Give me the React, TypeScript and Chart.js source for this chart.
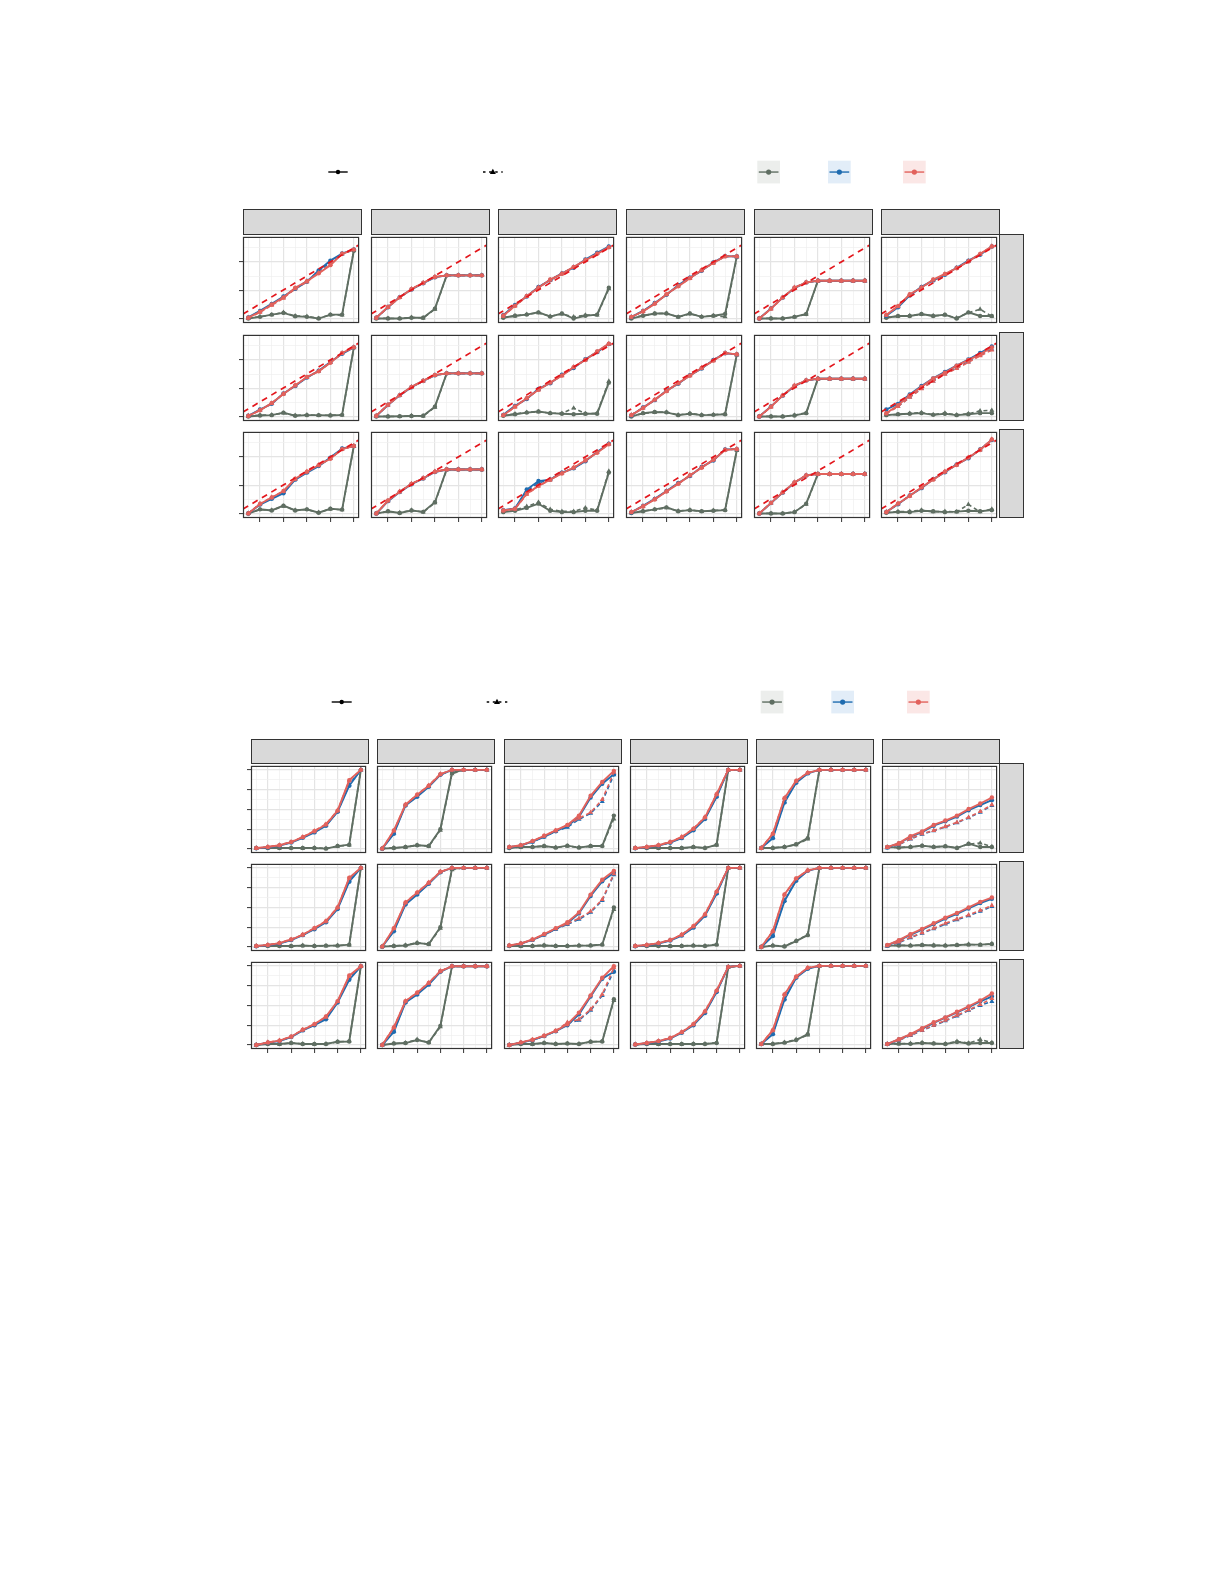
import React, { useEffect, useRef } from "react";
import { Chart, registerables } from "chart.js";

Chart.register(...registerables);

// ---------------- axes / ticks ----------------
const xValues = [1, 2, 3, 4, 5, 6, 7, 8, 9, 10];
const xGridValues = [1, 2, 3, 4, 5, 6, 7, 8, 9, 10];
const xMajorTicks = [2, 4, 6, 8, 10];
const xRange = [0.55, 10.45];

const topYGridValues = [0, 0.5, 1, 1.5, 2, 2.5];
const topYMajorTicks = [0, 1, 2];
const topYRange = [-0.157, 2.89];

const botYGridValues = [0, 0.5, 1, 1.5, 2, 2.5, 3, 3.5, 4];
const botYMajorTicks = [0, 1, 2, 3, 4];
const botYRange = [-0.2, 4.2];

// reference (identity-type) dashed line in the upper figure
const refSlope = 0.2475;
const refIntercept = 0.024;

// ---------------- upper figure: 3 rows x 6 columns (row-major) ----------------
const topGray = [
  [0.00, 0.06, 0.14, 0.20, 0.08, 0.06, 0.00, 0.14, 0.14, 2.40],
  [0.00, 0.00, 0.00, 0.03, 0.03, 0.35, 1.53, 1.53, 1.53, 1.53],
  [0.03, 0.10, 0.14, 0.22, 0.07, 0.18, 0.00, 0.10, 0.14, 1.09],
  [0.00, 0.10, 0.18, 0.18, 0.06, 0.18, 0.06, 0.10, 0.16, 2.20],
  [0.00, 0.00, 0.00, 0.06, 0.16, 1.34, 1.34, 1.34, 1.34, 1.34],
  [0.03, 0.09, 0.09, 0.16, 0.09, 0.14, 0.00, 0.22, 0.09, 0.09],
  [0.00, 0.04, 0.05, 0.14, 0.03, 0.05, 0.05, 0.04, 0.06, 2.45],
  [0.00, 0.00, 0.01, 0.02, 0.03, 0.35, 1.53, 1.53, 1.53, 1.53],
  [0.03, 0.08, 0.14, 0.18, 0.12, 0.10, 0.08, 0.10, 0.10, 1.20],
  [0.00, 0.12, 0.16, 0.15, 0.05, 0.10, 0.05, 0.06, 0.08, 2.20],
  [0.00, 0.00, 0.00, 0.04, 0.12, 1.34, 1.34, 1.34, 1.34, 1.34],
  [0.05, 0.08, 0.10, 0.12, 0.06, 0.10, 0.05, 0.08, 0.12, 0.12],
  [0.00, 0.15, 0.11, 0.28, 0.11, 0.15, 0.03, 0.17, 0.14, 2.39],
  [0.00, 0.08, 0.02, 0.11, 0.06, 0.40, 1.56, 1.56, 1.56, 1.56],
  [0.05, 0.10, 0.20, 0.35, 0.10, 0.05, 0.05, 0.10, 0.10, 1.45],
  [0.02, 0.08, 0.15, 0.22, 0.08, 0.12, 0.08, 0.10, 0.12, 2.25],
  [0.00, 0.00, 0.00, 0.05, 0.35, 1.40, 1.40, 1.40, 1.40, 1.40],
  [0.03, 0.06, 0.05, 0.10, 0.08, 0.05, 0.07, 0.10, 0.08, 0.12],
];
const topGrayD = [
  [0.01, 0.07, 0.13, 0.22, 0.09, 0.08, 0.01, 0.13, 0.12, 2.42],
  [0.00, 0.01, 0.00, 0.04, 0.02, 0.33, 1.52, 1.53, 1.53, 1.53],
  [0.04, 0.09, 0.15, 0.20, 0.08, 0.16, 0.06, 0.12, 0.12, 1.05],
  [0.01, 0.11, 0.17, 0.19, 0.05, 0.17, 0.07, 0.10, 0.06, 2.18],
  [0.00, 0.01, 0.00, 0.05, 0.15, 1.33, 1.34, 1.34, 1.34, 1.34],
  [0.04, 0.08, 0.10, 0.15, 0.10, 0.12, 0.02, 0.20, 0.33, 0.08],
  [0.01, 0.05, 0.06, 0.12, 0.04, 0.06, 0.04, 0.05, 0.05, 2.43],
  [0.00, 0.01, 0.00, 0.03, 0.02, 0.33, 1.52, 1.53, 1.53, 1.53],
  [0.04, 0.09, 0.15, 0.17, 0.12, 0.11, 0.30, 0.10, 0.12, 1.25],
  [0.01, 0.11, 0.15, 0.16, 0.06, 0.11, 0.06, 0.07, 0.09, 2.18],
  [0.00, 0.01, 0.00, 0.05, 0.13, 1.33, 1.34, 1.34, 1.34, 1.34],
  [0.06, 0.07, 0.11, 0.14, 0.07, 0.12, 0.06, 0.10, 0.20, 0.22],
  [0.01, 0.14, 0.12, 0.26, 0.12, 0.14, 0.04, 0.16, 0.13, 2.37],
  [0.00, 0.07, 0.03, 0.12, 0.05, 0.38, 1.55, 1.56, 1.56, 1.56],
  [0.07, 0.13, 0.25, 0.40, 0.15, 0.08, 0.08, 0.20, 0.12, 1.50],
  [0.03, 0.09, 0.14, 0.20, 0.09, 0.13, 0.07, 0.11, 0.13, 2.23],
  [0.00, 0.01, 0.00, 0.06, 0.33, 1.39, 1.40, 1.40, 1.40, 1.40],
  [0.04, 0.07, 0.08, 0.12, 0.06, 0.08, 0.06, 0.32, 0.06, 0.16],
];
const topBlue = [
  [0.04, 0.27, 0.52, 0.78, 1.05, 1.30, 1.70, 2.05, 2.30, 2.45],
  [0.03, 0.40, 0.76, 1.03, 1.25, 1.46, 1.53, 1.53, 1.53, 1.53],
  [0.12, 0.48, 0.78, 1.12, 1.36, 1.60, 1.80, 2.09, 2.33, 2.55],
  [0.05, 0.27, 0.55, 0.84, 1.18, 1.45, 1.69, 1.99, 2.21, 2.20],
  [0.00, 0.36, 0.74, 1.08, 1.28, 1.34, 1.34, 1.34, 1.34, 1.34],
  [0.10, 0.40, 0.82, 1.12, 1.35, 1.55, 1.80, 2.05, 2.26, 2.55],
  [0.03, 0.25, 0.45, 0.82, 1.08, 1.38, 1.62, 1.93, 2.22, 2.45],
  [0.02, 0.41, 0.75, 1.04, 1.26, 1.46, 1.53, 1.53, 1.53, 1.53],
  [0.06, 0.38, 0.62, 0.98, 1.18, 1.48, 1.72, 2.03, 2.28, 2.57],
  [0.04, 0.32, 0.58, 0.92, 1.16, 1.46, 1.70, 2.00, 2.24, 2.20],
  [0.00, 0.36, 0.74, 1.08, 1.28, 1.34, 1.34, 1.34, 1.34, 1.34],
  [0.25, 0.45, 0.78, 1.08, 1.35, 1.58, 1.80, 2.02, 2.25, 2.48],
  [0.00, 0.32, 0.52, 0.72, 1.20, 1.45, 1.68, 1.98, 2.30, 2.39],
  [0.00, 0.44, 0.76, 1.04, 1.24, 1.47, 1.56, 1.56, 1.56, 1.56],
  [0.12, 0.18, 0.85, 1.15, 1.20, 1.45, 1.60, 1.85, 2.18, 2.47],
  [0.04, 0.27, 0.52, 0.80, 1.08, 1.33, 1.65, 1.88, 2.27, 2.28],
  [0.00, 0.37, 0.74, 1.09, 1.35, 1.40, 1.40, 1.40, 1.40, 1.40],
  [0.06, 0.33, 0.64, 0.90, 1.22, 1.46, 1.74, 1.96, 2.27, 2.60],
];
const topBlueD = [
  [0.03, 0.25, 0.50, 0.76, 1.07, 1.33, 1.66, 2.00, 2.28, 2.44],
  [0.02, 0.41, 0.75, 1.04, 1.26, 1.47, 1.53, 1.53, 1.53, 1.53],
  [0.11, 0.46, 0.79, 1.10, 1.37, 1.59, 1.82, 2.07, 2.31, 2.53],
  [0.06, 0.26, 0.53, 0.85, 1.16, 1.44, 1.70, 1.98, 2.20, 2.20],
  [0.00, 0.35, 0.75, 1.09, 1.28, 1.34, 1.34, 1.34, 1.34, 1.34],
  [0.11, 0.42, 0.84, 1.10, 1.36, 1.56, 1.79, 2.03, 2.27, 2.55],
  [0.02, 0.23, 0.47, 0.81, 1.09, 1.39, 1.61, 1.91, 2.24, 2.45],
  [0.03, 0.42, 0.76, 1.05, 1.27, 1.47, 1.53, 1.53, 1.53, 1.53],
  [0.05, 0.36, 0.64, 0.96, 1.19, 1.46, 1.74, 2.01, 2.29, 2.56],
  [0.05, 0.31, 0.59, 0.91, 1.17, 1.45, 1.71, 1.99, 2.25, 2.20],
  [0.00, 0.35, 0.75, 1.09, 1.28, 1.34, 1.34, 1.34, 1.34, 1.34],
  [0.12, 0.36, 0.69, 0.99, 1.26, 1.51, 1.72, 1.94, 2.17, 2.38],
  [0.01, 0.33, 0.55, 0.76, 1.21, 1.46, 1.70, 1.96, 2.29, 2.39],
  [0.00, 0.45, 0.77, 1.05, 1.25, 1.48, 1.56, 1.56, 1.56, 1.56],
  [0.11, 0.18, 0.80, 1.08, 1.21, 1.44, 1.61, 1.87, 2.17, 2.46],
  [0.05, 0.26, 0.51, 0.79, 1.06, 1.34, 1.63, 1.89, 2.26, 2.28],
  [0.00, 0.38, 0.75, 1.10, 1.35, 1.40, 1.40, 1.40, 1.40, 1.40],
  [0.05, 0.34, 0.63, 0.91, 1.21, 1.47, 1.73, 1.97, 2.26, 2.61],
];
const topRed = [
  [0.03, 0.24, 0.50, 0.75, 1.09, 1.32, 1.60, 1.89, 2.29, 2.44],
  [0.03, 0.41, 0.75, 1.04, 1.26, 1.47, 1.53, 1.53, 1.53, 1.53],
  [0.10, 0.45, 0.80, 1.09, 1.38, 1.58, 1.83, 2.06, 2.29, 2.52],
  [0.06, 0.25, 0.52, 0.86, 1.14, 1.43, 1.71, 1.97, 2.20, 2.20],
  [0.00, 0.35, 0.75, 1.09, 1.28, 1.34, 1.34, 1.34, 1.34, 1.34],
  [0.13, 0.44, 0.86, 1.09, 1.38, 1.58, 1.78, 2.02, 2.29, 2.55],
  [0.02, 0.22, 0.48, 0.80, 1.10, 1.40, 1.60, 1.90, 2.25, 2.45],
  [0.03, 0.42, 0.76, 1.05, 1.27, 1.47, 1.53, 1.53, 1.53, 1.53],
  [0.05, 0.35, 0.65, 0.95, 1.20, 1.45, 1.75, 2.00, 2.30, 2.58],
  [0.05, 0.30, 0.60, 0.90, 1.18, 1.45, 1.72, 1.98, 2.25, 2.20],
  [0.00, 0.35, 0.75, 1.09, 1.28, 1.34, 1.34, 1.34, 1.34, 1.34],
  [0.12, 0.40, 0.75, 1.05, 1.35, 1.55, 1.80, 2.00, 2.20, 2.45],
  [0.00, 0.34, 0.57, 0.80, 1.23, 1.48, 1.71, 1.94, 2.28, 2.39],
  [0.00, 0.46, 0.77, 1.05, 1.25, 1.48, 1.56, 1.56, 1.56, 1.56],
  [0.11, 0.17, 0.70, 0.98, 1.20, 1.42, 1.62, 1.88, 2.15, 2.45],
  [0.05, 0.25, 0.50, 0.78, 1.05, 1.35, 1.62, 1.90, 2.25, 2.28],
  [0.00, 0.38, 0.75, 1.10, 1.35, 1.40, 1.40, 1.40, 1.40, 1.40],
  [0.05, 0.35, 0.62, 0.92, 1.20, 1.48, 1.72, 1.98, 2.25, 2.62],
];
const topRedD = [
  [0.02, 0.22, 0.47, 0.72, 1.05, 1.30, 1.62, 1.92, 2.30, 2.44],
  [0.02, 0.40, 0.74, 1.05, 1.27, 1.48, 1.53, 1.53, 1.52, 1.52],
  [0.09, 0.44, 0.78, 1.10, 1.36, 1.60, 1.81, 2.08, 2.30, 2.52],
  [0.05, 0.26, 0.54, 0.85, 1.15, 1.42, 1.72, 1.96, 2.21, 2.20],
  [0.00, 0.34, 0.74, 1.10, 1.29, 1.34, 1.34, 1.34, 1.34, 1.34],
  [0.12, 0.43, 0.85, 1.10, 1.37, 1.57, 1.79, 2.03, 2.28, 2.56],
  [0.03, 0.23, 0.46, 0.81, 1.11, 1.39, 1.61, 1.91, 2.24, 2.46],
  [0.02, 0.41, 0.75, 1.04, 1.26, 1.46, 1.53, 1.53, 1.53, 1.53],
  [0.04, 0.34, 0.66, 0.94, 1.21, 1.44, 1.76, 2.01, 2.29, 2.57],
  [0.06, 0.31, 0.59, 0.89, 1.19, 1.44, 1.73, 1.97, 2.24, 2.21],
  [0.00, 0.34, 0.74, 1.10, 1.29, 1.34, 1.34, 1.34, 1.34, 1.34],
  [0.10, 0.35, 0.68, 0.98, 1.25, 1.50, 1.70, 1.92, 2.15, 2.35],
  [0.01, 0.35, 0.58, 0.79, 1.22, 1.49, 1.72, 1.95, 2.27, 2.40],
  [0.01, 0.45, 0.78, 1.06, 1.26, 1.49, 1.56, 1.56, 1.56, 1.56],
  [0.10, 0.16, 0.68, 0.97, 1.19, 1.43, 1.63, 1.89, 2.16, 2.46],
  [0.06, 0.26, 0.51, 0.79, 1.06, 1.36, 1.63, 1.91, 2.26, 2.29],
  [0.01, 0.37, 0.76, 1.11, 1.36, 1.40, 1.40, 1.40, 1.40, 1.40],
  [0.06, 0.36, 0.63, 0.93, 1.21, 1.49, 1.73, 1.99, 2.26, 2.63],
];

// ---------------- lower figure: 3 rows x 6 columns (row-major) ----------------
const botGray = [
  [0.05, 0.05, 0.05, 0.05, 0.05, 0.05, 0.02, 0.15, 0.22, 4.00],
  [0.02, 0.05, 0.10, 0.19, 0.15, 1.00, 3.85, 4.00, 4.00, 4.00],
  [0.05, 0.10, 0.10, 0.15, 0.07, 0.17, 0.07, 0.15, 0.15, 1.69],
  [0.05, 0.05, 0.05, 0.05, 0.05, 0.10, 0.05, 0.22, 4.00, 4.00],
  [0.05, 0.05, 0.10, 0.24, 0.55, 4.00, 4.00, 4.00, 4.00, 4.00],
  [0.10, 0.07, 0.10, 0.17, 0.10, 0.14, 0.05, 0.27, 0.10, 0.10],
  [0.05, 0.05, 0.05, 0.05, 0.07, 0.05, 0.07, 0.07, 0.12, 4.00],
  [0.02, 0.05, 0.08, 0.20, 0.15, 1.00, 3.95, 4.00, 4.00, 4.00],
  [0.05, 0.05, 0.05, 0.08, 0.05, 0.05, 0.07, 0.08, 0.12, 2.00],
  [0.05, 0.05, 0.05, 0.05, 0.05, 0.07, 0.05, 0.12, 4.00, 4.00],
  [0.00, 0.07, 0.03, 0.30, 0.60, 4.00, 4.00, 4.00, 4.00, 4.00],
  [0.07, 0.08, 0.07, 0.10, 0.08, 0.07, 0.10, 0.12, 0.12, 0.15],
  [0.00, 0.05, 0.05, 0.10, 0.05, 0.05, 0.05, 0.17, 0.18, 3.98],
  [0.00, 0.08, 0.10, 0.25, 0.13, 0.97, 3.98, 3.98, 3.98, 3.98],
  [0.00, 0.05, 0.05, 0.10, 0.05, 0.08, 0.05, 0.17, 0.18, 2.31],
  [0.03, 0.05, 0.05, 0.05, 0.05, 0.05, 0.05, 0.10, 3.95, 4.00],
  [0.05, 0.05, 0.12, 0.25, 0.55, 4.00, 4.00, 4.00, 4.00, 4.00],
  [0.05, 0.07, 0.06, 0.10, 0.08, 0.05, 0.15, 0.08, 0.10, 0.10],
];
const botGrayD = [
  [0.04, 0.06, 0.05, 0.06, 0.04, 0.06, 0.03, 0.14, 0.20, 4.00],
  [0.03, 0.06, 0.09, 0.20, 0.14, 0.95, 3.80, 4.00, 4.00, 4.00],
  [0.06, 0.09, 0.11, 0.14, 0.08, 0.15, 0.08, 0.14, 0.16, 1.52],
  [0.04, 0.06, 0.05, 0.06, 0.04, 0.09, 0.06, 0.20, 3.98, 4.00],
  [0.04, 0.06, 0.11, 0.22, 0.50, 3.98, 4.00, 4.00, 4.00, 4.00],
  [0.09, 0.08, 0.11, 0.16, 0.11, 0.13, 0.06, 0.25, 0.30, 0.12],
  [0.04, 0.06, 0.06, 0.04, 0.08, 0.06, 0.06, 0.08, 0.10, 3.98],
  [0.03, 0.06, 0.09, 0.22, 0.14, 0.95, 3.90, 4.00, 4.00, 4.00],
  [0.06, 0.04, 0.06, 0.09, 0.06, 0.06, 0.08, 0.07, 0.14, 1.90],
  [0.04, 0.06, 0.06, 0.04, 0.06, 0.08, 0.06, 0.14, 3.98, 4.00],
  [0.01, 0.08, 0.05, 0.32, 0.62, 3.98, 4.00, 4.00, 4.00, 4.00],
  [0.06, 0.09, 0.08, 0.09, 0.09, 0.08, 0.09, 0.14, 0.10, 0.17],
  [0.01, 0.06, 0.04, 0.11, 0.06, 0.04, 0.06, 0.16, 0.20, 3.96],
  [0.01, 0.07, 0.11, 0.28, 0.12, 0.92, 3.96, 3.98, 3.98, 3.98],
  [0.01, 0.06, 0.04, 0.11, 0.06, 0.07, 0.06, 0.16, 0.20, 2.25],
  [0.02, 0.06, 0.04, 0.06, 0.04, 0.06, 0.06, 0.12, 3.93, 4.00],
  [0.04, 0.06, 0.13, 0.28, 0.50, 3.98, 4.00, 4.00, 4.00, 4.00],
  [0.04, 0.06, 0.08, 0.12, 0.07, 0.06, 0.18, 0.10, 0.28, 0.12],
];
const botBlue = [
  [0.04, 0.08, 0.17, 0.33, 0.57, 0.84, 1.18, 1.88, 3.20, 4.00],
  [0.02, 0.77, 2.20, 2.64, 3.15, 3.75, 4.00, 4.00, 4.00, 4.00],
  [0.09, 0.18, 0.37, 0.62, 0.90, 1.15, 1.62, 2.60, 3.30, 3.78],
  [0.04, 0.09, 0.17, 0.32, 0.55, 0.95, 1.52, 2.64, 4.00, 4.00],
  [0.05, 0.55, 2.35, 3.35, 3.82, 4.00, 4.00, 4.00, 4.00, 4.00],
  [0.08, 0.28, 0.62, 0.86, 1.18, 1.40, 1.64, 1.96, 2.22, 2.47],
  [0.04, 0.09, 0.18, 0.35, 0.60, 0.90, 1.25, 1.92, 3.30, 4.00],
  [0.02, 0.80, 2.15, 2.65, 3.20, 3.78, 4.00, 4.00, 4.00, 4.00],
  [0.07, 0.17, 0.36, 0.62, 0.92, 1.20, 1.70, 2.58, 3.32, 3.75],
  [0.04, 0.09, 0.18, 0.33, 0.58, 0.98, 1.58, 2.70, 4.00, 4.00],
  [0.00, 0.56, 2.32, 3.35, 3.85, 4.00, 4.00, 4.00, 4.00, 4.00],
  [0.08, 0.32, 0.62, 0.88, 1.16, 1.44, 1.68, 1.95, 2.22, 2.44],
  [0.00, 0.12, 0.20, 0.40, 0.74, 1.00, 1.30, 2.15, 3.30, 3.98],
  [0.00, 0.67, 2.15, 2.55, 3.05, 3.70, 3.98, 3.98, 3.98, 3.98],
  [0.00, 0.12, 0.25, 0.45, 0.70, 1.00, 1.55, 2.45, 3.35, 3.70],
  [0.03, 0.09, 0.18, 0.33, 0.62, 1.00, 1.62, 2.68, 3.95, 4.00],
  [0.05, 0.55, 2.30, 3.40, 3.85, 4.00, 4.00, 4.00, 4.00, 4.00],
  [0.05, 0.28, 0.52, 0.82, 1.12, 1.38, 1.65, 1.92, 2.20, 2.45],
];
const botBlueD = [
  [0.05, 0.09, 0.18, 0.34, 0.58, 0.86, 1.20, 1.90, 3.25, 4.00],
  [0.02, 0.80, 2.22, 2.66, 3.17, 3.76, 4.00, 4.00, 4.00, 4.00],
  [0.09, 0.18, 0.37, 0.62, 0.90, 1.10, 1.50, 1.80, 2.40, 3.75],
  [0.05, 0.09, 0.18, 0.33, 0.57, 0.97, 1.55, 2.66, 4.00, 4.00],
  [0.05, 0.58, 2.38, 3.37, 3.83, 4.00, 4.00, 4.00, 4.00, 4.00],
  [0.06, 0.22, 0.50, 0.75, 0.92, 1.12, 1.33, 1.58, 1.86, 2.20],
  [0.05, 0.09, 0.19, 0.36, 0.61, 0.92, 1.27, 1.95, 3.35, 4.00],
  [0.02, 0.83, 2.18, 2.68, 3.22, 3.79, 4.00, 4.00, 4.00, 4.00],
  [0.07, 0.17, 0.36, 0.62, 0.90, 1.14, 1.40, 1.75, 2.35, 3.65],
  [0.05, 0.09, 0.19, 0.34, 0.60, 1.00, 1.60, 2.72, 4.00, 4.00],
  [0.01, 0.60, 2.35, 3.38, 3.86, 4.00, 4.00, 4.00, 4.00, 4.00],
  [0.05, 0.22, 0.47, 0.70, 0.92, 1.16, 1.38, 1.58, 1.80, 2.05],
  [0.01, 0.12, 0.21, 0.41, 0.75, 1.02, 1.34, 2.18, 3.38, 3.98],
  [0.00, 0.70, 2.17, 2.58, 3.08, 3.72, 3.98, 3.98, 3.98, 3.98],
  [0.00, 0.12, 0.25, 0.45, 0.70, 1.10, 1.25, 1.75, 2.50, 3.75],
  [0.03, 0.09, 0.19, 0.34, 0.63, 1.02, 1.65, 2.70, 3.95, 4.00],
  [0.05, 0.58, 2.33, 3.42, 3.86, 4.00, 4.00, 4.00, 4.00, 4.00],
  [0.04, 0.24, 0.48, 0.73, 0.98, 1.22, 1.47, 1.75, 2.00, 2.20],
];
const botRed = [
  [0.05, 0.10, 0.19, 0.35, 0.60, 0.90, 1.24, 1.94, 3.48, 4.00],
  [0.02, 0.94, 2.24, 2.74, 3.20, 3.78, 4.00, 4.00, 4.00, 4.00],
  [0.10, 0.19, 0.40, 0.67, 0.94, 1.22, 1.69, 2.69, 3.39, 3.95],
  [0.05, 0.10, 0.19, 0.35, 0.60, 1.02, 1.60, 2.77, 4.00, 4.00],
  [0.05, 0.77, 2.57, 3.44, 3.85, 4.00, 4.00, 4.00, 4.00, 4.00],
  [0.10, 0.30, 0.65, 0.89, 1.22, 1.44, 1.69, 2.02, 2.30, 2.60],
  [0.05, 0.10, 0.20, 0.38, 0.62, 0.95, 1.30, 2.00, 3.50, 4.00],
  [0.02, 0.95, 2.25, 2.75, 3.25, 3.80, 4.00, 4.00, 4.00, 4.00],
  [0.08, 0.18, 0.38, 0.65, 0.95, 1.25, 1.75, 2.65, 3.40, 3.85],
  [0.05, 0.10, 0.20, 0.35, 0.62, 1.05, 1.65, 2.80, 4.00, 4.00],
  [0.00, 0.80, 2.66, 3.47, 3.87, 4.00, 4.00, 4.00, 4.00, 4.00],
  [0.10, 0.35, 0.65, 0.92, 1.20, 1.48, 1.72, 2.00, 2.28, 2.50],
  [0.00, 0.13, 0.22, 0.42, 0.77, 1.05, 1.44, 2.22, 3.51, 3.98],
  [0.00, 0.89, 2.22, 2.64, 3.14, 3.73, 3.98, 3.98, 3.98, 3.98],
  [0.00, 0.13, 0.27, 0.47, 0.72, 1.05, 1.64, 2.51, 3.40, 3.98],
  [0.03, 0.10, 0.20, 0.35, 0.65, 1.05, 1.70, 2.75, 3.95, 4.00],
  [0.05, 0.75, 2.55, 3.45, 3.90, 4.00, 4.00, 4.00, 4.00, 4.00],
  [0.05, 0.30, 0.55, 0.85, 1.15, 1.40, 1.68, 1.95, 2.25, 2.60],
];
const botRedD = [
  [0.04, 0.11, 0.20, 0.36, 0.61, 0.92, 1.26, 1.96, 3.45, 4.00],
  [0.03, 0.92, 2.25, 2.75, 3.22, 3.79, 4.00, 4.00, 4.00, 4.00],
  [0.10, 0.19, 0.40, 0.67, 0.94, 1.20, 1.55, 1.85, 2.50, 3.88],
  [0.04, 0.11, 0.20, 0.36, 0.62, 1.03, 1.62, 2.78, 4.00, 4.00],
  [0.05, 0.78, 2.58, 3.45, 3.86, 4.00, 4.00, 4.00, 4.00, 4.00],
  [0.07, 0.24, 0.52, 0.77, 0.94, 1.14, 1.35, 1.60, 1.89, 2.24],
  [0.06, 0.11, 0.21, 0.39, 0.63, 0.96, 1.32, 2.02, 3.48, 4.00],
  [0.03, 0.93, 2.26, 2.76, 3.26, 3.81, 4.00, 4.00, 4.00, 4.00],
  [0.08, 0.18, 0.38, 0.65, 0.93, 1.18, 1.45, 1.80, 2.40, 3.70],
  [0.06, 0.11, 0.21, 0.36, 0.63, 1.06, 1.66, 2.81, 4.00, 4.00],
  [0.01, 0.81, 2.64, 3.46, 3.88, 4.00, 4.00, 4.00, 4.00, 4.00],
  [0.06, 0.25, 0.50, 0.72, 0.95, 1.20, 1.42, 1.62, 1.85, 2.10],
  [0.01, 0.14, 0.23, 0.43, 0.78, 1.06, 1.42, 2.20, 3.48, 3.98],
  [0.01, 0.90, 2.23, 2.65, 3.15, 3.74, 3.98, 3.98, 3.98, 3.98],
  [0.00, 0.13, 0.27, 0.47, 0.72, 1.14, 1.30, 1.80, 2.56, 3.90],
  [0.04, 0.11, 0.21, 0.36, 0.66, 1.06, 1.71, 2.76, 3.95, 4.00],
  [0.05, 0.76, 2.56, 3.46, 3.91, 4.00, 4.00, 4.00, 4.00, 4.00],
  [0.05, 0.25, 0.50, 0.75, 1.00, 1.25, 1.50, 1.78, 2.05, 2.35],
];

// ---------------- styling ----------------
const COL_GRAY = "#5f6e62";
const COL_BLUE = "#1f6cb0";
const COL_RED = "#e2625c";
const COL_REF = "#e3161c";
const FRAME = "#333333";
const STRIP_FILL = "#d9d9d9";

type GridDef = {
  key: "top" | "bot";
  left: number;
  pitchX: number;
  width: number;
  panelTop: number;
  pitchY: number;
  height: number;
  stripTop: number;
  stripRight: number;
  yRange: number[];
  yGrid: number[];
  yMajor: number[];
  gray: number[][];
  grayD: number[][];
  blue: number[][];
  blueD: number[][];
  red: number[][];
  redD: number[][];
  refLine: boolean;
};

const TOP_GRID: GridDef = {
  key: "top",
  left: 243.3,
  pitchX: 127.55,
  width: 119,
  panelTop: 234,
  pitchY: 97.65,
  height: 89,
  stripTop: 209.3,
  stripRight: 1024,
  yRange: topYRange,
  yGrid: topYGridValues,
  yMajor: topYMajorTicks,
  gray: topGray,
  grayD: topGrayD,
  blue: topBlue,
  blueD: topBlueD,
  red: topRed,
  redD: topRedD,
  refLine: true,
};

const BOT_GRID: GridDef = {
  key: "bot",
  left: 251,
  pitchX: 126.26,
  width: 118,
  panelTop: 763.3,
  pitchY: 97.8,
  height: 90,
  stripTop: 739.3,
  stripRight: 1024,
  yRange: botYRange,
  yGrid: botYGridValues,
  yMajor: botYMajorTicks,
  gray: botGray,
  grayD: botGrayD,
  blue: botBlue,
  blueD: botBlueD,
  red: botRed,
  redD: botRedD,
  refLine: false,
};

const framePlugin = {
  id: "panelFrame",
  afterDraw(chart: any) {
    const { ctx, chartArea: a } = chart;
    ctx.save();
    ctx.strokeStyle = FRAME;
    ctx.lineWidth = 1.2;
    ctx.strokeRect(a.left + 0.5, a.top + 0.5, a.right - a.left - 1, a.bottom - a.top - 1);
    ctx.restore();
  },
};

const M = 5; // room for outside tick marks
const TICK_LEN = 4;

function Panel({ grid, row, col }: { grid: GridDef; row: number; col: number }) {
  const ref = useRef<HTMLCanvasElement>(null);
  const idx = row * 6 + col;
  const showY = col === 0;
  const showX = row === 2;
  const left = grid.left + col * grid.pitchX;
  const top = grid.panelTop + row * grid.pitchY;
  const cw = grid.width + M;
  const ch = grid.height + M;

  useEffect(() => {
    const canvas = ref.current;
    if (!canvas) return;
    const mk = (vals: number[], color: string, dashed: boolean, order: number) => ({
      data: xValues.map((x, i) => ({ x, y: vals[i] })),
      borderColor: color,
      backgroundColor: color,
      borderWidth: dashed ? 1.6 : 1.9,
      borderDash: dashed ? [4, 3] : [],
      pointStyle: dashed ? "triangle" : "circle",
      pointRadius: dashed ? 2.9 : 2.2,
      pointBorderWidth: 0,
      pointHoverRadius: 0,
      tension: 0,
      fill: false,
      order,
    });
    const datasets: any[] = [
      mk(grid.gray[idx], COL_GRAY, false, 7),
      mk(grid.grayD[idx], COL_GRAY, true, 6),
      mk(grid.blue[idx], COL_BLUE, false, 5),
      mk(grid.blueD[idx], COL_BLUE, true, 4),
      mk(grid.red[idx], COL_RED, false, 3),
      mk(grid.redD[idx], COL_RED, true, 2),
    ];
    if (grid.refLine) {
      datasets.push({
        data: xRange.map((x) => ({ x, y: refIntercept + refSlope * x })),
        borderColor: COL_REF,
        borderWidth: 1.7,
        borderDash: [6, 5],
        pointRadius: 0,
        fill: false,
        order: 1,
      });
    }
    const xMajor = new Set(xMajorTicks);
    const yMajor = new Set(grid.yMajor);
    const chart = new Chart(canvas, {
      type: "line",
      data: { datasets },
      plugins: [framePlugin],
      options: {
        animation: false,
        responsive: false,
        maintainAspectRatio: false,
        events: [],
        layout: {
          padding: {
            left: showY ? M - TICK_LEN : M,
            bottom: showX ? M - TICK_LEN : M,
            top: 0,
            right: 0,
          },
        },
        plugins: { legend: { display: false }, tooltip: { enabled: false } },
        scales: {
          x: {
            type: "linear",
            min: xRange[0],
            max: xRange[1],
            afterBuildTicks: (s: any) => {
              s.ticks = xGridValues.map((v) => ({ value: v }));
            },
            ticks: { display: false },
            border: { display: false },
            grid: {
              color: (c: any) => (c.tick && xMajor.has(c.tick.value) ? "#e4e4e4" : "#efefef"),
              lineWidth: (c: any) => (c.tick && xMajor.has(c.tick.value) ? 1.2 : 0.7),
              drawTicks: showX,
              tickLength: TICK_LEN,
              tickWidth: 1,
              tickColor: (c: any) => (c.tick && xMajor.has(c.tick.value) ? FRAME : "rgba(0,0,0,0)"),
            },
          },
          y: {
            type: "linear",
            min: grid.yRange[0],
            max: grid.yRange[1],
            afterBuildTicks: (s: any) => {
              s.ticks = grid.yGrid.map((v) => ({ value: v }));
            },
            ticks: { display: false },
            border: { display: false },
            grid: {
              color: (c: any) => (c.tick && yMajor.has(c.tick.value) ? "#e4e4e4" : "#efefef"),
              lineWidth: (c: any) => (c.tick && yMajor.has(c.tick.value) ? 1.2 : 0.7),
              drawTicks: showY,
              tickLength: TICK_LEN,
              tickWidth: 1,
              tickColor: (c: any) => (c.tick && yMajor.has(c.tick.value) ? FRAME : "rgba(0,0,0,0)"),
            },
          },
        },
      } as any,
    });
    return () => chart.destroy();
  }, []);

  return (
    <div
      style={{
        position: "absolute",
        left: left - M,
        top: top,
        width: cw,
        height: ch,
      }}
    >
      <canvas ref={ref} width={cw} height={ch} style={{ width: cw, height: ch, display: "block" }} />
    </div>
  );
}

function Strips({ grid }: { grid: GridDef }) {
  const items: React.ReactNode[] = [];
  for (let c = 0; c < 6; c++) {
    const left = grid.left + c * grid.pitchX;
    items.push(
      <div
        key={`t${c}`}
        style={{
          position: "absolute",
          left,
          top: grid.stripTop,
          width: grid.width,
          height: grid.panelTop - grid.stripTop + 1,
          background: STRIP_FILL,
          border: `1.2px solid ${FRAME}`,
          boxSizing: "border-box",
        }}
      />
    );
  }
  const lastRight = grid.left + 5 * grid.pitchX + grid.width;
  for (let r = 0; r < 3; r++) {
    items.push(
      <div
        key={`r${r}`}
        style={{
          position: "absolute",
          left: lastRight - 1,
          top: grid.panelTop + r * grid.pitchY,
          width: grid.stripRight - lastRight + 1,
          height: grid.height,
          background: STRIP_FILL,
          border: `1.2px solid ${FRAME}`,
          boxSizing: "border-box",
        }}
      />
    );
  }
  return <>{items}</>;
}

function Legend({
  lineY,
  solidX,
  dashedX,
  boxX,
  boxTop,
}: {
  lineY: number;
  solidX: number[];
  dashedX: number[];
  boxX: number[];
  boxTop: number;
}) {
  const top = lineY - 20;
  const yy = 20;
  const box = 22.7;
  const boxY = boxTop - top;
  const keys = [
    { fill: "#eceeec", col: COL_GRAY },
    { fill: "#e2edf8", col: COL_BLUE },
    { fill: "#fbe7e6", col: COL_RED },
  ];
  const dm = (dashedX[0] + dashedX[1]) / 2;
  return (
    <svg
      style={{ position: "absolute", left: 0, top, overflow: "visible" }}
      width={1225}
      height={40}
    >
      <line x1={solidX[0]} x2={solidX[1]} y1={yy} y2={yy} stroke="#000" strokeWidth={1.4} />
      <circle cx={(solidX[0] + solidX[1]) / 2} cy={yy} r={2.2} fill="#000" />
      <line
        x1={dashedX[0]}
        x2={dashedX[1]}
        y1={yy}
        y2={yy}
        stroke="#000"
        strokeWidth={1.3}
        strokeDasharray="2.5 3.6"
      />
      <polygon points={`${dm},${yy - 3.2} ${dm - 3},${yy + 2} ${dm + 3},${yy + 2}`} fill="#000" />
      {keys.map((k, i) => (
        <g key={i}>
          <rect x={boxX[i]} y={boxY} width={box} height={box} fill={k.fill} />
          <line
            x1={boxX[i] + 1.5}
            x2={boxX[i] + box - 1.5}
            y1={boxY + box / 2}
            y2={boxY + box / 2}
            stroke={k.col}
            strokeWidth={1.4}
          />
          <circle cx={boxX[i] + box / 2} cy={boxY + box / 2} r={2.6} fill={k.col} />
        </g>
      ))}
    </svg>
  );
}

function Figure({ grid }: { grid: GridDef }) {
  const panels: React.ReactNode[] = [];
  for (let r = 0; r < 3; r++) {
    for (let c = 0; c < 6; c++) {
      panels.push(<Panel key={`${grid.key}-${r}-${c}`} grid={grid} row={r} col={c} />);
    }
  }
  return (
    <>
      <Strips grid={grid} />
      {panels}
    </>
  );
}

export default function App() {
  return (
    <div
      style={{
        position: "absolute",
        left: 0,
        top: 0,
        width: 1225,
        height: 1585,
        background: "#ffffff",
        fontFamily: "DejaVu Sans, sans-serif",
      }}
    >
      <Legend
        lineY={172.3}
        solidX={[328.3, 347.7]}
        dashedX={[483, 502.7]}
        boxX={[757.3, 828, 903]}
        boxTop={161}
      />
      <Figure grid={TOP_GRID} />
      <Legend
        lineY={702.3}
        solidX={[331.7, 351.7]}
        dashedX={[486.7, 507.3]}
        boxX={[760.7, 831.3, 907]}
        boxTop={691}
      />
      <Figure grid={BOT_GRID} />
    </div>
  );
}
